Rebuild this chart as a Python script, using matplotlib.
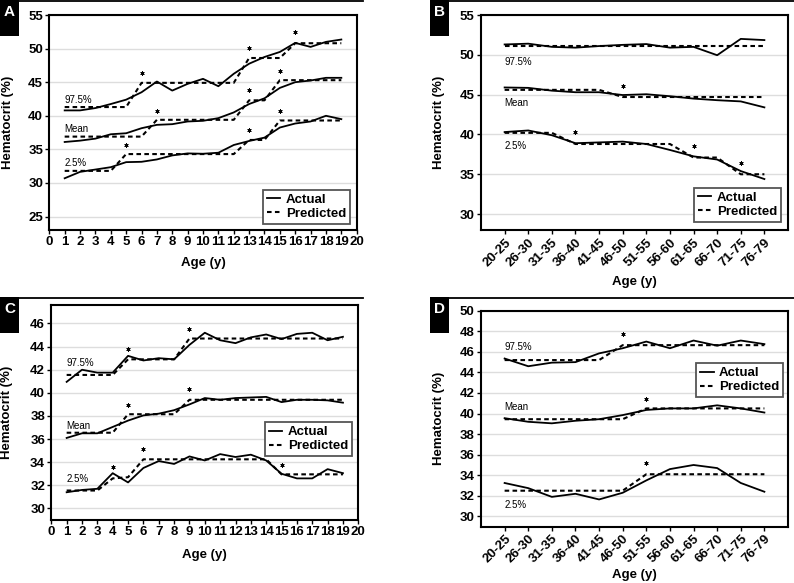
import numpy as np
import matplotlib
matplotlib.use("Agg")
import matplotlib.pyplot as plt
from matplotlib.patches import Rectangle
from matplotlib.lines import Line2D

plt.rcParams['font.family'] = ['Liberation Sans', 'DejaVu Sans']

# ---- data -----------------------------------------------------------
ages = list(range(1, 20))
age_groups = ["20-25", "26-30", "31-35", "36-40", "41-45", "46-50",
              "51-55", "56-60", "61-65", "66-70", "71-75", "76-79"]

# panel A (children, by age)
a_hi_act = [40.8, 40.8, 41.15, 41.75, 42.4, 43.5, 45.1, 43.75, 44.75, 45.5,
            44.4, 46.25, 47.75, 48.75, 49.5, 50.85, 50.25, 51.0, 51.35]
a_hi_pred = [41.3] * 5 + [44.9] * 7 + [48.6] * 3 + [50.8] * 4
a_mn_act = [36.1, 36.3, 36.6, 37.25, 37.4, 38.15, 38.65, 38.75, 39.15, 39.25,
            39.65, 40.5, 41.75, 42.6, 44.15, 45.0, 45.25, 45.65, 45.65]
a_mn_pred = [36.9] * 6 + [39.4] * 6 + [42.3] * 2 + [45.3] * 5
a_lo_act = [30.7, 31.65, 32.0, 32.35, 33.1, 33.15, 33.5, 34.1, 34.4, 34.35,
            34.5, 35.65, 36.25, 36.75, 38.25, 38.85, 39.15, 40.0, 39.5]
a_lo_pred = [31.8] * 4 + [34.3] * 8 + [36.4] * 2 + [39.3] * 5
a_star_x = [6, 13, 16, 7, 13, 15, 5, 13, 15]
a_star_y = [46.35, 50.1, 52.4, 40.75, 43.85, 46.6, 35.6, 37.85, 40.65]

# panel B (adults, by age group)
b_hi_act = [51.3, 51.4, 51.0, 50.9, 51.1, 51.25, 51.35, 50.9, 51.0, 49.95, 52.0, 51.85]
b_hi_pred = [51.15] * 12
b_mn_act = [45.9, 45.85, 45.5, 45.3, 45.3, 44.95, 45.05, 44.8, 44.5, 44.3, 44.15, 43.4]
b_mn_pred = [45.6] * 5 + [44.7] * 7
b_lo_act = [40.3, 40.5, 39.9, 38.9, 39.0, 39.1, 38.8, 38.05, 37.25, 36.85, 35.4, 34.4]
b_lo_pred = [40.2] * 3 + [38.8] * 5 + [37.1] * 2 + [35.0] * 2
b_star_x = [5, 3, 8, 10]
b_star_y = [46.05, 40.3, 38.6, 36.4]

# panel C (children, by age)
c_hi_act = [40.95, 42.0, 41.75, 41.75, 43.2, 42.8, 43.0, 42.9, 44.15, 45.2,
            44.55, 44.3, 44.8, 45.05, 44.65, 45.1, 45.2, 44.55, 44.85]
c_hi_pred = [41.55] * 4 + [42.9] * 4 + [44.7] * 11
c_mn_act = [36.1, 36.5, 36.5, 37.05, 37.6, 38.05, 38.2, 38.5, 39.0, 39.55,
            39.4, 39.55, 39.6, 39.65, 39.2, 39.4, 39.4, 39.35, 39.15]
c_mn_pred = [36.55] * 4 + [38.15] * 4 + [39.4] * 11
c_lo_act = [31.4, 31.6, 31.7, 33.05, 32.25, 33.5, 34.1, 33.85, 34.5, 34.15,
            34.7, 34.45, 34.65, 34.15, 33.0, 32.6, 32.6, 33.4, 33.05]
c_lo_pred = [31.55] * 3 + [32.6, 32.7] + [34.25] * 9 + [32.95] * 5
c_star_x = [5, 9, 5, 9, 4, 6, 15]
c_star_y = [43.8, 45.5, 38.95, 40.3, 33.6, 35.1, 33.8]

# panel D (adults, by age group)
d_hi_act = [45.35, 44.6, 44.95, 45.0, 45.85, 46.35, 47.0, 46.35, 47.1, 46.6, 47.1, 46.75]
d_hi_pred = [45.2] * 5 + [46.65] * 7
d_mn_act = [39.55, 39.2, 39.05, 39.3, 39.45, 39.85, 40.35, 40.5, 40.5, 40.8, 40.5, 40.1]
d_mn_pred = [39.45] * 6 + [40.5] * 6
d_lo_act = [33.25, 32.75, 31.9, 32.2, 31.65, 32.3, 33.5, 34.6, 35.0, 34.7, 33.25, 32.4]
d_lo_pred = [32.5] * 6 + [34.1] * 6
d_star_x = [5, 6, 6]
d_star_y = [47.7, 41.4, 35.15]

curve_names = ["97.5%", "Mean", "2.5%"]

# ---- figure ---------------------------------------------------------
W, H = 794, 583
fig = plt.figure(figsize=(W / 100, H / 100), dpi=100)


def px_axes(left, top, right, bottom):
    return fig.add_axes([left / W, 1 - bottom / H, (right - left) / W, (bottom - top) / H])


def panel(ax, x, series, stars, names_pos, ylim, yticks, xlim, xticks, xticklabels, rot,
          leg_loc, leg_anchor, ylab_x, xlab_y):
    ax.set_xlim(*xlim)
    ax.set_ylim(*ylim)
    ax.set_yticks(yticks)
    ax.set_xticks(xticks)
    ax.set_xticklabels(xticklabels)
    ax.yaxis.grid(True, color="#dddddd", lw=1.0)
    ax.set_axisbelow(True)
    for s in ax.spines.values():
        s.set_linewidth(1.5)
    ax.tick_params(direction="out", length=3, width=1, labelsize=9.5, pad=1.5)
    for lab in ax.get_xticklabels() + ax.get_yticklabels():
        lab.set_fontweight("bold")
    if rot:
        for lab in ax.get_xticklabels():
            lab.set_rotation(45)
            lab.set_ha("right")
            lab.set_rotation_mode("anchor")
    first = True
    for act, pred in series:
        ax.plot(x, act, color="black", lw=1.3, label="Actual" if first else None)
        ax.plot(x, pred, color="black", lw=1.5, ls=(0, (2.2, 1.6)),
                label="Predicted" if first else None)
        first = False
    ax.plot(stars[0], stars[1], ls="none", marker=(6, 2, 0), ms=3, mew=0.6, color="black")
    for name, (tx, ty) in zip(curve_names, names_pos):
        ax.text(tx, ty, name, fontsize=7, ha="left", va="center")
    leg = ax.legend(loc=leg_loc, bbox_to_anchor=leg_anchor, frameon=True, fancybox=False,
                    edgecolor="#555555", framealpha=1, prop={"weight": "bold", "size": 9.5},
                    handlelength=1.0, handletextpad=0.4, labelspacing=0.15, borderpad=0.3,
                    borderaxespad=0)
    leg.get_frame().set_linewidth(1.3)
    ax.set_ylabel("Hematocrit (%)", fontsize=9.5, fontweight="bold")
    ax.yaxis.set_label_coords(ylab_x, 0.5)
    ax.set_xlabel("Age (y)", fontsize=9.5, fontweight="bold")
    ax.xaxis.set_label_coords(0.5, xlab_y)


axA = px_axes(49.3, 15, 356.7, 230)
panel(axA, ages,
      [(a_hi_act, a_hi_pred), (a_mn_act, a_mn_pred), (a_lo_act, a_lo_pred)],
      (a_star_x, a_star_y), [(1, 42.4), (1, 38.0), (1, 32.9)],
      (23, 55), range(25, 56, 5), (0, 20), range(0, 21), [str(i) for i in range(21)], False,
      "lower right", (0.978, 0.028), -0.115, -0.126)

grp_x = np.arange(len(age_groups))
axB = px_axes(481, 15, 788, 230)
panel(axB, grp_x,
      [(b_hi_act, b_hi_pred), (b_mn_act, b_mn_pred), (b_lo_act, b_lo_pred)],
      (b_star_x, b_star_y), [(0, 49.05), (0, 44.0), (0, 38.5)],
      (28, 55), range(30, 56, 5), (-1, 12), grp_x, age_groups, True,
      "lower right", (0.977, 0.037), -0.117, -0.214)

axC = px_axes(51.3, 305, 358.3, 520)
panel(axC, ages,
      [(c_hi_act, c_hi_pred), (c_mn_act, c_mn_pred), (c_lo_act, c_lo_pred)],
      (c_star_x, c_star_y), [(1, 42.57), (1, 37.14), (1, 32.54)],
      (29, 47.6), range(30, 47, 2), (0, 20), range(0, 21), [str(i) for i in range(21)], False,
      "upper right", (0.979, 0.456), -0.125, -0.135)

axD = px_axes(481, 310.7, 788, 526.7)
panel(axD, grp_x,
      [(d_hi_act, d_hi_pred), (d_mn_act, d_mn_pred), (d_lo_act, d_lo_pred)],
      (d_star_x, d_star_y), [(0, 46.5), (0, 40.6), (0, 31.1)],
      (29, 50), range(30, 51, 2), (-1, 12), grp_x, age_groups, True,
      "upper right", (0.984, 0.758), -0.117, -0.196)

# panel header lines and letter boxes
for letter, bx, by, lx0, lx1 in [("A", 0, 0, 18, 363), ("B", 430, 0, 449, 794),
                                  ("C", 0, 297, 18, 363), ("D", 430, 297, 449, 794)]:
    fig.add_artist(Rectangle((bx / W, 1 - (by + 36) / H), 19 / W, 36 / H,
                             transform=fig.transFigure, facecolor="black", edgecolor="none"))
    fig.add_artist(Line2D([lx0 / W, lx1 / W], [1 - (by + 0.8) / H] * 2,
                          transform=fig.transFigure, color="black", lw=1.3))
    fig.text((bx + 9.5) / W, 1 - (by + 12) / H, letter, color="white", fontsize=11,
             fontweight="bold", ha="center", va="center")

fig.savefig("out.png", dpi=100)
